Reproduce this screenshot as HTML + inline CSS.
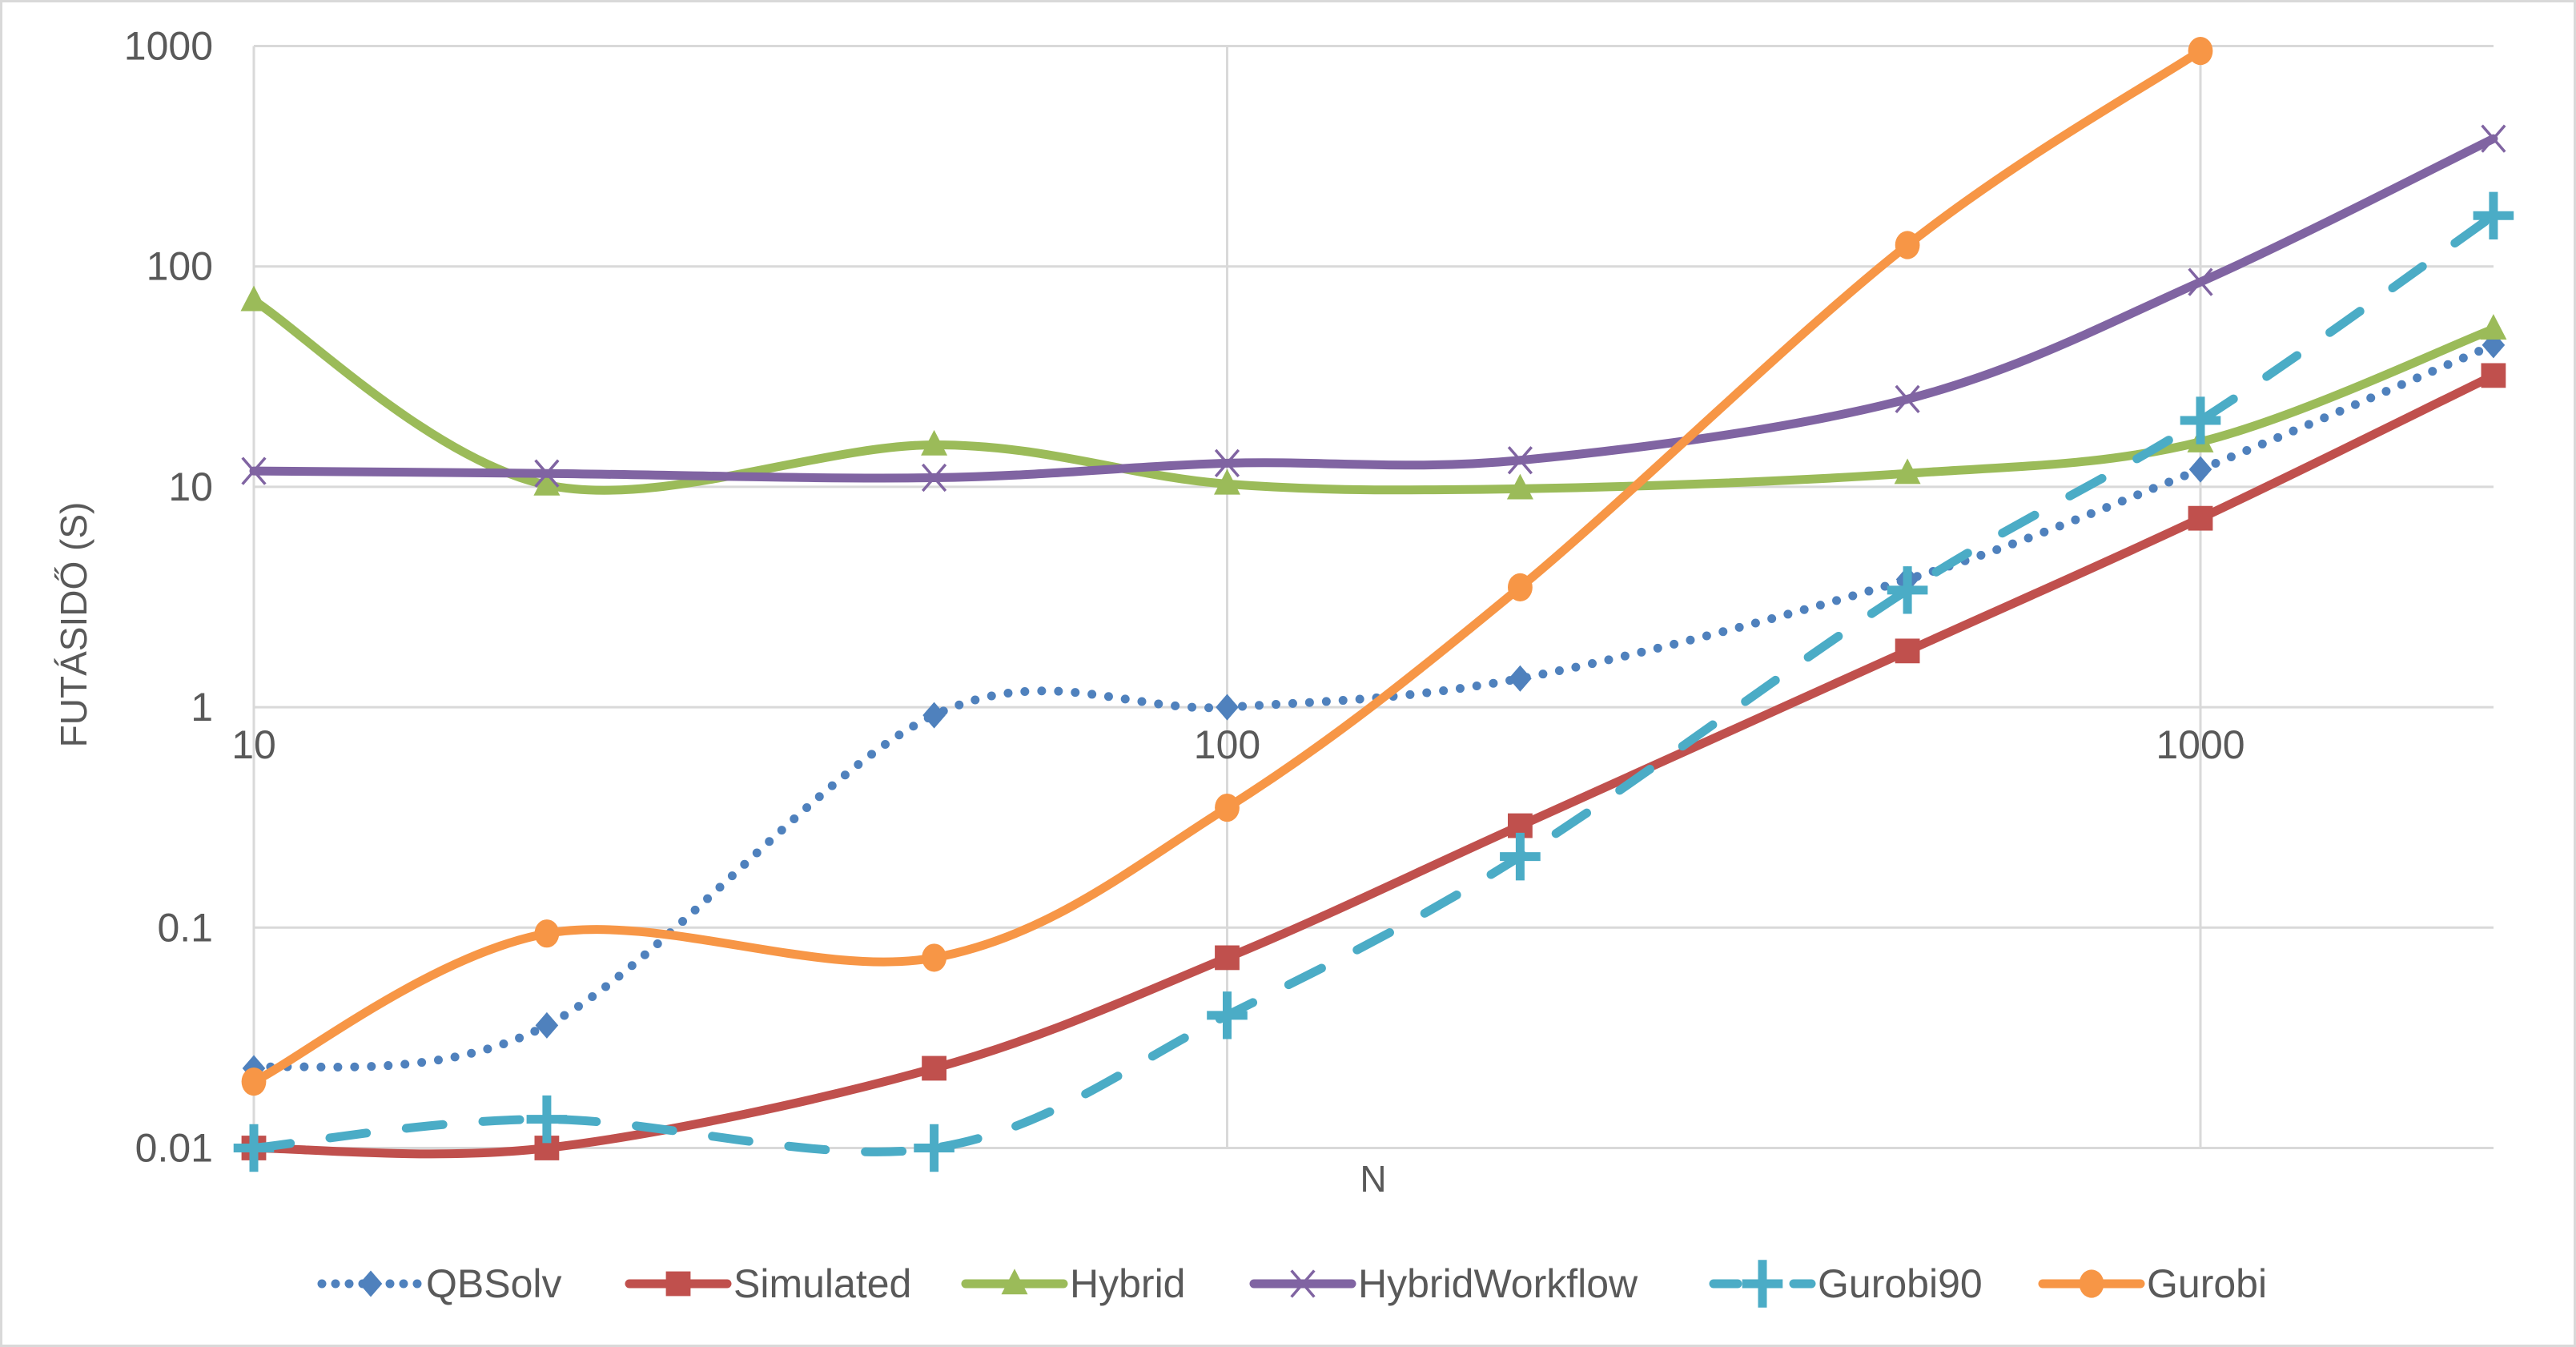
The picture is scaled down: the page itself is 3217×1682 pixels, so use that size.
<!DOCTYPE html>
<html><head><meta charset="utf-8"><style>
html,body{margin:0;padding:0;background:#fff}
svg{display:block}
text{font-family:"Liberation Sans",sans-serif;fill:#595959}
</style></head><body>
<svg id="chart" width="3217" height="1682" viewBox="0 0 3217 1682" xmlns="http://www.w3.org/2000/svg">
<rect x="1.5" y="1.5" width="3214" height="1679" fill="#fff" stroke="#d9d9d9" stroke-width="3"/>
<g id="grid"></g>
<g id="axes"></g>
<g id="series"></g>
<g id="legend"></g>
<text transform="translate(108,780) rotate(-90)" text-anchor="middle" font-size="46">FUTÁSIDŐ (S)</text>
<text x="1715" y="1488" text-anchor="middle" font-size="46">N</text>
</svg>
<script>
const categories = [10, 20, 50, 100, 200, 500, 1000, 2000];
const qbsolv = [0.023, 0.036, 0.92, 1.0, 1.35, 3.8, 12, 44];
const simulated = [0.01, 0.01, 0.023, 0.073, 0.29, 1.8, 7.2, 32];
const hybrid = [70, 10.2, 15.5, 10.3, 9.8, 11.5, 16, 52];
const hybridWorkflow = [11.8, 11.5, 11, 12.8, 13.2, 25, 85, 380];
const gurobi90 = [0.01, 0.0135, 0.01, 0.04, 0.21, 3.4, 20, 170];
const gurobi = [0.02, 0.094, 0.073, 0.35, 3.5, 125, 950, null];
const yTicks = ["1000", "100", "10", "1", "0.1", "0.01"];
const xTicks = ["10", "100", "1000"];

const NS = "http://www.w3.org/2000/svg";
const X0 = 317, XDEC = 1215.5, XMAX = 3114;
const Y0 = 57.5, YDEC = 275.2;
function xs(v){ return X0 + Math.log10(v/10)*XDEC; }
function ys(v){ return Y0 + (3 - Math.log10(v))*YDEC; }
function mk(tag, attrs, parent){ const e=document.createElementNS(NS,tag); for(const k in attrs) e.setAttribute(k,attrs[k]); parent.appendChild(e); return e; }

const grid=document.getElementById('grid'), axes=document.getElementById('axes');
yTicks.forEach(t=>{
  const y=ys(parseFloat(t));
  const l=mk('line',{x1:X0,x2:XMAX,y1:y,y2:y,stroke:'#d9d9d9','stroke-width':3},grid);
  
  
  const tx=mk('text',{x:266,y:y+17,'text-anchor':'end','font-size':50},axes);
  tx.textContent=t;
  
  
});
xTicks.forEach(t=>{
  const x=xs(parseFloat(t));
  const l=mk('line',{x1:x,x2:x,y1:Y0,y2:ys(0.01),stroke:'#d9d9d9','stroke-width':3},grid);
  
  
  const tx=mk('text',{x:x,y:ys(1)+64,'text-anchor':'middle','font-size':50},axes);
  tx.textContent=t;
  
  
});

function smoothPath(pts){
  let d=`M${pts[0][0]},${pts[0][1]}`;
  for(let i=0;i<pts.length-1;i++){
    const p0=pts[i-1]||pts[i], p1=pts[i], p2=pts[i+1], p3=pts[i+2]||p2;
    const c1=[p1[0]+(p2[0]-p0[0])/6, p1[1]+(p2[1]-p0[1])/6];
    const c2=[p2[0]-(p3[0]-p1[0])/6, p2[1]-(p3[1]-p1[1])/6];
    d+=` C${c1[0]},${c1[1]} ${c2[0]},${c2[1]} ${p2[0]},${p2[1]}`;
  }
  return d;
}
function marker(type,x,y,color,parent,s){
  s=s||1.1;
  let e;
  if(type==='diamond') e=mk('path',{d:`M${x},${y-15*s}L${x+13*s},${y}L${x},${y+15*s}L${x-13*s},${y}Z`,fill:color},parent);
  else if(type==='square') e=mk('rect',{x:x-14*s,y:y-14*s,width:28*s,height:28*s,fill:color},parent);
  else if(type==='triangle') e=mk('path',{d:`M${x},${y-17*s}L${x+15*s},${y+12*s}L${x-15*s},${y+12*s}Z`,fill:color},parent);
  else if(type==='x') e=mk('path',{d:`M${x-13*s},${y-15*s}L${x+13*s},${y+15*s}M${x+13*s},${y-15*s}L${x-13*s},${y+15*s}`,stroke:color,'stroke-width':3.5,fill:'none'},parent);
  else if(type==='plus') e=mk('path',{d:`M${x-23*s},${y}H${x+23*s}M${x},${y-27*s}V${y+27*s}`,stroke:color,'stroke-width':11,fill:'none'},parent);
  else e=mk('ellipse',{cx:x,cy:y,rx:14*s,ry:16*s,fill:color},parent);
  
  
}
const seriesDefs=[
  {name:'QBSolv',data:qbsolv,color:'#4f81bd',m:'diamond',dash:'0 21',w:11},
  {name:'Simulated',data:simulated,color:'#c0504d',m:'square',dash:null,w:11},
  {name:'Hybrid',data:hybrid,color:'#9bbb59',m:'triangle',dash:null,w:11},
  {name:'HybridWorkflow',data:hybridWorkflow,color:'#8064a2',m:'x',dash:null,w:11},
  {name:'Gurobi90',data:gurobi90,color:'#4bacc6',m:'plus',dash:'46 50',w:11},
  {name:'Gurobi',data:gurobi,color:'#f79646',m:'circle',dash:null,w:11}
];
const sg=document.getElementById('series');
seriesDefs.forEach(s=>{
  const g=mk('g',{},sg);
  
  
  const pts=[];
  categories.forEach((c,i)=>{ if(s.data[i]!=null) pts.push([xs(c),ys(s.data[i])]); });
  const a={d:smoothPath(pts),fill:'none',stroke:s.color,'stroke-width':s.w,'stroke-linecap':'round','stroke-linejoin':'round'};
  if(s.dash) a['stroke-dasharray']=s.dash;
  const p=mk('path',a,g);
  
  
  pts.forEach(pt=>marker(s.m,pt[0],pt[1],s.color,g));
});
const lg=document.getElementById('legend');
const lx=[396,780,1200,1560,2134,2545];
seriesDefs.forEach((s,i)=>{
  const g=mk('g',{},lg);
  
  
  const y=1603, x1=lx[i]+6, x2=lx[i]+128;
  const a={d:`M${x1},${y}H${x2}`,stroke:s.color,'stroke-width':11,'stroke-linecap':'round',fill:'none'};
  if(s.dash) a['stroke-dasharray']=s.dash==='0 21'?'0 17':'30 20';
  mk('path',a,g);
  marker(s.m,(x1+x2)/2,y,s.color,g);
  const t=mk('text',{x:x2+8,y:y+17,'font-size':50},g);
  t.textContent=s.name;
});
</script>
</body></html>
